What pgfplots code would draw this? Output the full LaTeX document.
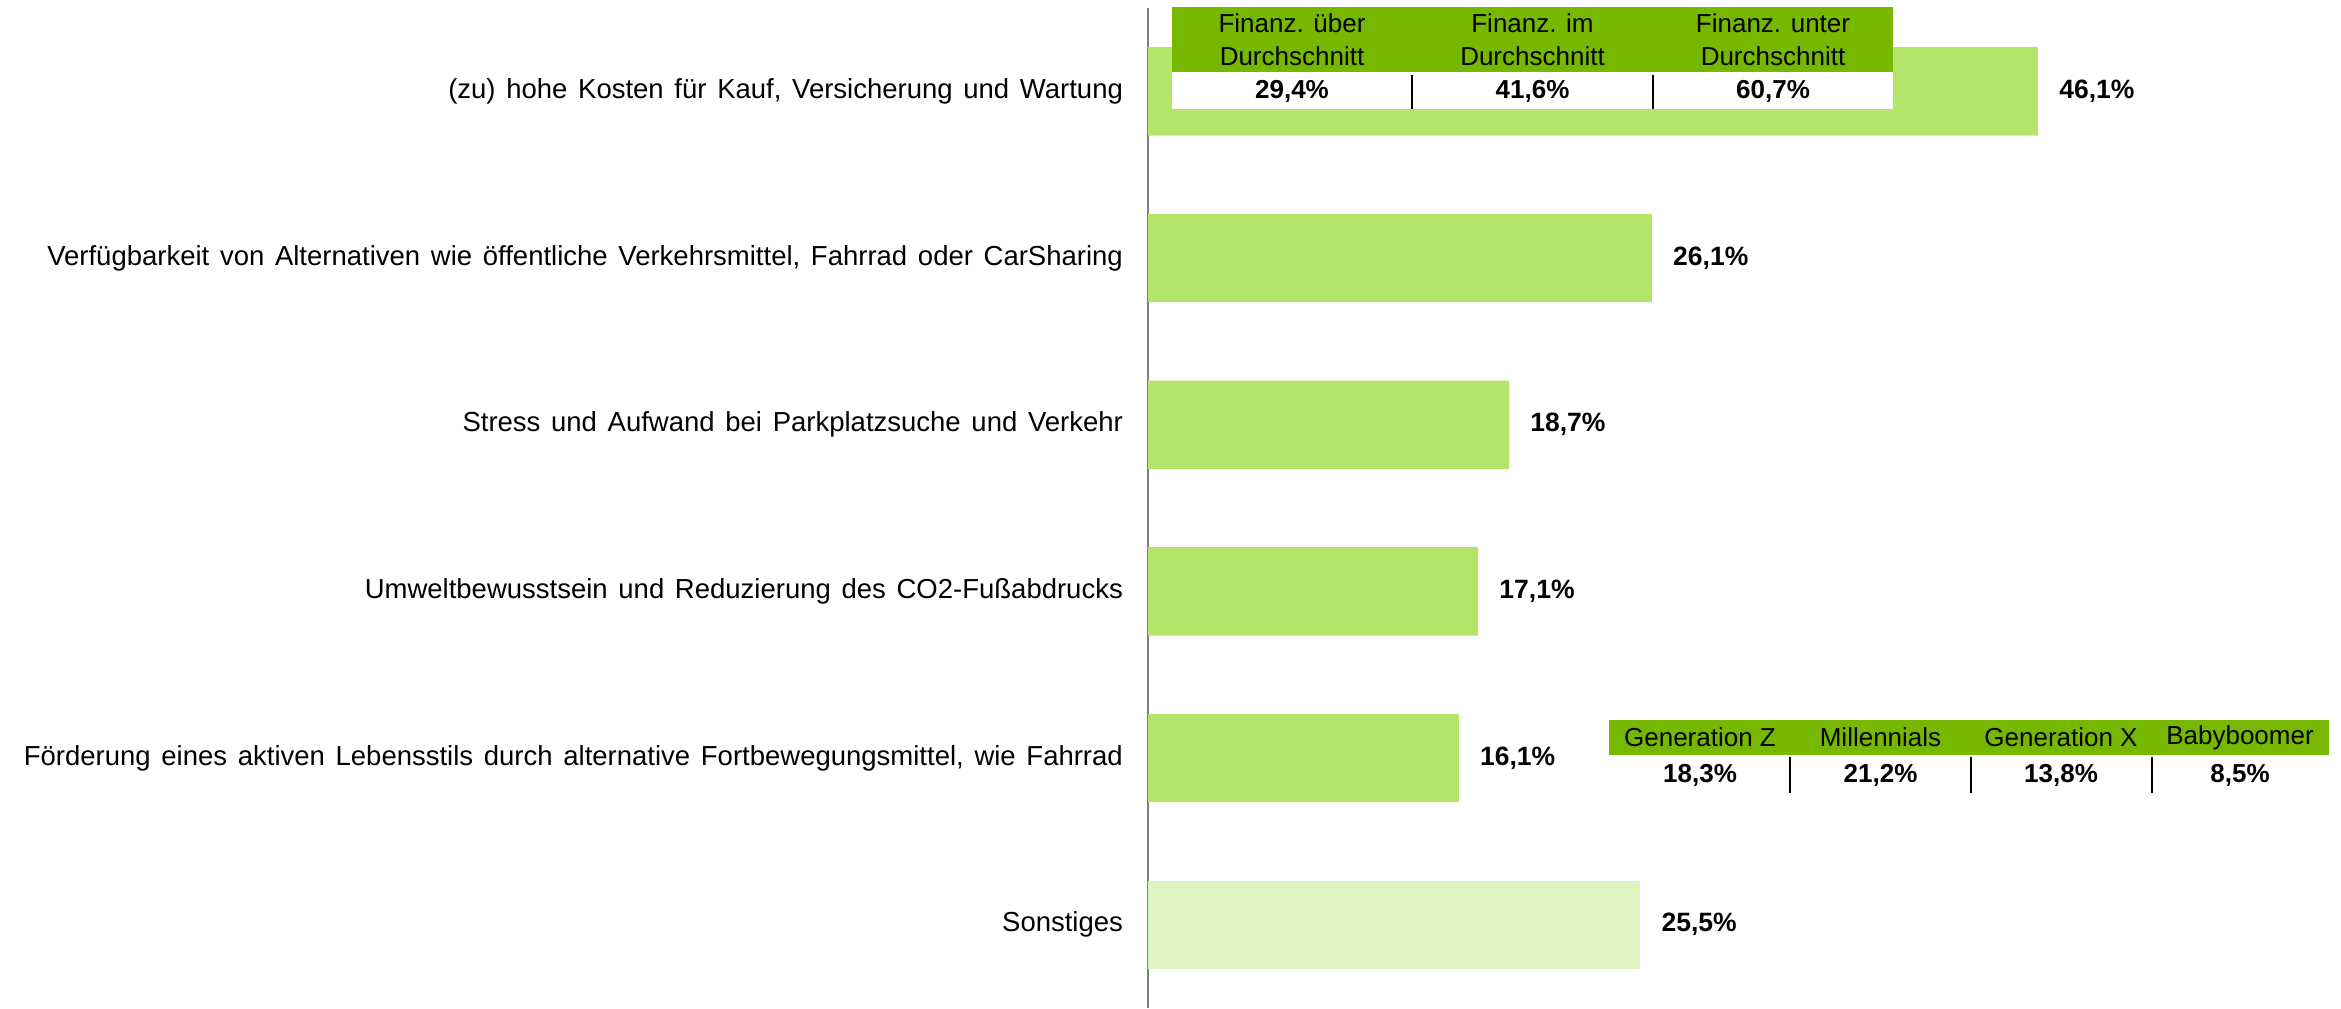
\documentclass[border=0pt]{standalone}
\usepackage{fontspec}
\setmainfont{Liberation Sans}
\newfontfamily\lblfont[WordSpace=1.4]{Liberation Sans}
\usepackage{pgfplots}
\pgfplotsset{compat=1.18}
\definecolor{barGreen}{RGB}{178,229,106}
\definecolor{barLight}{RGB}{222,244,193}
\definecolor{headGreen}{RGB}{118,184,0}
\definecolor{axisGray}{RGB}{128,128,128}
\newcommand{\lbl}{\lblfont\fontsize{11pt}{13.2pt}\selectfont}
\newcommand{\val}{\fontsize{10.6pt}{12.7pt}\selectfont\bfseries}
\newcommand{\tbl}{\fontsize{10.4pt}{13.2pt}\selectfont}

\begin{document}
\begin{tikzpicture}[x=0.4pt,y=0.4pt]
\useasboundingbox (0,0) rectangle (2341,1008);
\begin{axis}[
    at={(459.2pt,0pt)}, anchor=south west,
    scale only axis, width=477.2pt, height=400pt,
    xbar, bar width=0.53, bar shift=0pt,
    xmin=0, xmax=61.8, ymin=-0.5, ymax=5.5, y dir=reverse,
    axis x line=none, axis y line=left,
    axis line style={-, draw=axisGray, line width=0.8pt},
    xtick=\empty,
    ytick={0,1,2,3,4,5},
    yticklabels={
      {(zu) hohe Kosten für Kauf, Versicherung und Wartung},
      {Verfügbarkeit von Alternativen wie öffentliche Verkehrsmittel, Fahrrad oder CarSharing},
      {Stress und Aufwand bei Parkplatzsuche und Verkehr},
      {Umweltbewusstsein und Reduzierung des CO2-Fußabdrucks},
      {Förderung eines aktiven Lebensstils durch alternative Fortbewegungsmittel, wie Fahrrad},
      {Sonstiges}},
    major tick length=0pt, tick style={draw=none},
    yticklabel style={font=\lbl, anchor=east, xshift=-6.5pt},
    nodes near coords={\pgfmathprintnumber[fixed,fixed zerofill,precision=1,use comma,assume math mode=true]{\pgfplotspointmeta}\%},
    nodes near coords align={horizontal},
    every node near coord/.append style={font=\val, text=black, xshift=5pt},
    clip=false,
]
\addplot[fill=barGreen, draw=none] coordinates {(46.1,0) (26.1,1) (18.7,2) (17.1,3) (16.1,4)};
\addplot[fill=barLight, draw=none] coordinates {(25.5,5)};
\end{axis}

% Tabelle oben: Finanzen
\fill[headGreen] (1172,936) rectangle (1893,1001);
\fill[white] (1172,899) rectangle (1893,936);
\foreach \cx/\txt in {1292/{Finanz. über\\Durchschnitt}, 1532.5/{Finanz. im\\Durchschnitt}, 1773/{Finanz. unter\\Durchschnitt}}
  \node[font=\tbl, align=center, inner sep=0pt] at (\cx,968.5) {\txt};
\foreach \cx/\txt in {1292/{29,4\%}, 1532.5/{41,6\%}, 1773/{60,7\%}}
  \node[font=\tbl\bfseries, inner sep=0pt] at (\cx,917) {\txt};
\draw[black, line width=0.8pt] (1412,933) -- (1412,899) (1653,933) -- (1653,899);

% Tabelle unten: Generationen
\fill[headGreen] (1609,253) rectangle (2329,288);
\fill[white] (1609,215) rectangle (2329,253);
\foreach \cx/\txt in {1700/{Generation Z}, 1880.5/{Millennials}, 2061/{Generation X}, 2240/{Babyboomer}}
  \node[font=\tbl, inner sep=0pt] at (\cx,270.5) {\txt};
\foreach \cx/\txt in {1700/{18,3\%}, 1880.5/{21,2\%}, 2061/{13,8\%}, 2240/{8,5\%}}
  \node[font=\tbl\bfseries, inner sep=0pt] at (\cx,233) {\txt};
\draw[black, line width=0.8pt] (1790,251) -- (1790,215) (1971,251) -- (1971,215) (2151.5,251) -- (2151.5,215);
\end{tikzpicture}
\end{document}
